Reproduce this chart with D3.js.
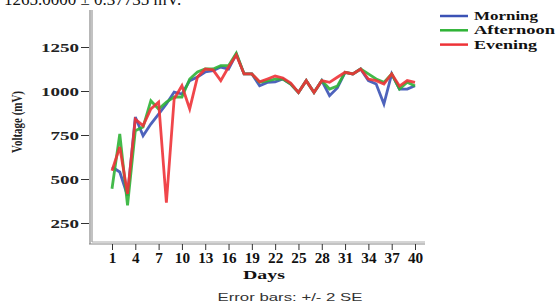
<!DOCTYPE html>
<html>
<head>
<meta charset="utf-8">
<script src="https://cdn.jsdelivr.net/npm/d3@7"></script>
<style>
  body { margin: 0; background: #fff; }
  svg { display: block; }
</style>
</head>
<body>
<svg id="chart" width="559" height="307"></svg>
<script>
// days 1..40
var days = d3.range(1, 41)
var morning = [568, 540, 405, 852, 746, 812, 869, 926, 994, 983,
  1059, 1080, 1108, 1115, 1136, 1125, 1210, 1097, 1097, 1030,
  1049, 1052, 1068, 1040, 992, 1059, 992, 1059, 973, 1017,
  1106, 1097, 1125, 1059, 1040, 926, 1097, 1011, 1011, 1030]
var afternoon = [445, 756, 350, 775, 795, 945, 898, 937, 966, 966,
  1068, 1108, 1125, 1125, 1144, 1144, 1215, 1097, 1097, 1050,
  1058, 1068, 1068, 1040, 992, 1059, 992, 1059, 1011, 1028,
  1106, 1097, 1125, 1097, 1068, 1049, 1097, 1011, 1050, 1028]
var evening = [547, 682, 415, 840, 803, 898, 937, 365, 955, 1030,
  898, 1080, 1125, 1120, 1059, 1136, 1205, 1097, 1097, 1052,
  1068, 1085, 1074, 1045, 992, 1059, 992, 1059, 1049, 1078,
  1106, 1097, 1125, 1068, 1059, 1040, 1097, 1028, 1059, 1049]
var yTicks = [250, 500, 750, 1000, 1250]
var xTicks = [1, 4, 7, 10, 13, 16, 19, 22, 25, 28, 31, 34, 37, 40]
var seriesNames = ['Morning', 'Afternoon', 'Evening']
var legendWidths = [64, 81, 63]
var colors = ['#3b52b5', '#2fb336', '#ee3237']

var svg = d3.select('#chart')
var serif = 'Liberation Serif, DejaVu Serif, serif'

var x = d3.scaleLinear().domain([1, 40]).range([112, 415])
var y = d3.scaleLinear().domain([250, 1250]).range([223, 47])

// caption line above, mostly cut by the top edge
svg.append('text')
  .attr('x', 4).attr('y', 5)
  .attr('font-family', serif).attr('font-size', 17)
  .attr('fill', '#111')
  .text('1265.0000 ± 0.37735 mV.')

// axes frame (double gray lines)
var g = svg.append('g')
g.append('line').attr('x1', 90).attr('x2', 90).attr('y1', 10).attr('y2', 244)
  .attr('stroke', '#888').attr('stroke-width', 1.2)
g.append('line').attr('x1', 92).attr('x2', 92).attr('y1', 10).attr('y2', 242)
  .attr('stroke', '#999').attr('stroke-width', 1.2)
g.append('line').attr('x1', 89).attr('x2', 425).attr('y1', 244).attr('y2', 244)
  .attr('stroke', '#888').attr('stroke-width', 1.2)
g.append('line').attr('x1', 92).attr('x2', 425).attr('y1', 242).attr('y2', 242)
  .attr('stroke', '#aaa').attr('stroke-width', 1)

var yAxis = d3.axisLeft(y).tickValues(yTicks).tickFormat(d3.format('d')).tickSize(8).tickPadding(2)
svg.append('g').attr('transform', 'translate(89,0)').call(yAxis)
  .call(s => s.select('.domain').remove())
  .call(s => s.selectAll('line').attr('stroke', '#333'))
  .call(s => s.selectAll('text').attr('font-family', serif).attr('font-size', 13)
    .attr('font-weight', 'bold').attr('fill', '#222')
    .attr('textLength', d => String(d).length * 9.5)
    .attr('lengthAdjust', 'spacingAndGlyphs'))

var xAxis = d3.axisBottom(x).tickValues(xTicks).tickSize(6).tickPadding(3)
svg.append('g').attr('transform', 'translate(0,244)').call(xAxis)
  .call(s => s.select('.domain').remove())
  .call(s => s.selectAll('line').attr('stroke', '#333'))
  .call(s => s.selectAll('text').attr('font-family', serif).attr('font-size', 14)
    .attr('font-weight', 'bold').attr('fill', '#111')
    .attr('textLength', d => String(d).length * 7.6)
    .attr('lengthAdjust', 'spacingAndGlyphs'))

// lines
var line = d3.line().x((d, i) => x(days[i])).y(d => y(d))
var data = [morning, afternoon, evening]
svg.append('g').selectAll('path').data(data).join('path')
  .attr('d', line)
  .attr('fill', 'none')
  .attr('stroke', (d, i) => colors[i])
  .attr('stroke-width', 2.8)
  .attr('opacity', 0.9)

// axis titles
svg.append('text')
  .attr('transform', 'translate(22,122) rotate(-90)')
  .attr('text-anchor', 'middle')
  .attr('font-family', serif).attr('font-size', 14).attr('font-weight', 'bold')
  .attr('textLength', 62).attr('lengthAdjust', 'spacingAndGlyphs')
  .attr('fill', '#222')
  .text('Voltage (mV)')

svg.append('text')
  .attr('x', 264).attr('y', 279)
  .attr('text-anchor', 'middle')
  .attr('font-family', serif).attr('font-size', 13).attr('font-weight', 'bold')
  .attr('textLength', 42).attr('lengthAdjust', 'spacingAndGlyphs')
  .attr('fill', '#111')
  .text('Days')

svg.append('text')
  .attr('x', 290).attr('y', 301)
  .attr('text-anchor', 'middle')
  .attr('font-family', 'Liberation Sans, Arial, sans-serif').attr('font-size', 11)
  .attr('textLength', 145).attr('lengthAdjust', 'spacingAndGlyphs')
  .attr('fill', '#333')
  .text('Error bars: +/- 2 SE')

// legend
var leg = svg.append('g').attr('transform', 'translate(440,16)')
seriesNames.forEach(function (name, i) {
  var row = leg.append('g').attr('transform', 'translate(0,' + (i * 14.3) + ')')
  row.append('line').attr('x1', 0).attr('x2', 28).attr('y1', 0).attr('y2', 0)
    .attr('stroke', colors[i]).attr('stroke-width', 2.5)
  row.append('text').attr('x', 34).attr('y', 4)
    .attr('font-family', serif).attr('font-size', 13).attr('font-weight', 'bold')
    .attr('textLength', legendWidths[i]).attr('lengthAdjust', 'spacingAndGlyphs')
    .attr('fill', '#111')
    .text(name)
})
</script>
</body>
</html>
